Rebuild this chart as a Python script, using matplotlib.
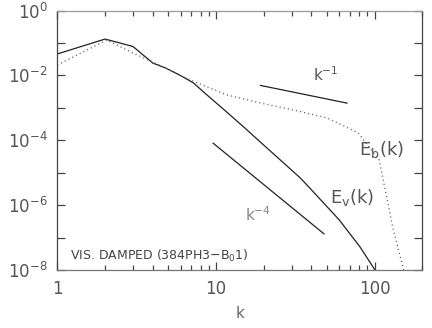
import matplotlib
matplotlib.use("Agg")
import matplotlib.pyplot as plt
import numpy as np
from matplotlib.ticker import FixedLocator, NullFormatter, FixedFormatter

# Data
k_v = [1.0, 2.0, 3.0, 4.0, 4.8, 5.9, 7.2, 9.1, 11.7, 15.2, 19.0, 34.0, 39.0, 60.0, 81.0, 100.0]
E_v = [10**-1.34, 10**-0.88, 10**-1.11, 10**-1.62, 10**-1.77, 10**-1.99, 10**-2.23, 10**-2.67,
       10**-3.13, 10**-3.62, 10**-4.05, 10**-5.16, 10**-5.47, 10**-6.46, 10**-7.29, 10**-7.98]

k_b = [1.0, 2.05, 3.0, 4.0, 4.8, 5.9, 7.6, 11.7, 19.0, 31.0, 50.0, 68.0, 79.0, 107.0, 130.0, 151.0, 156.0]
E_b = [10**-1.68, 10**-0.91, 10**-1.31, 10**-1.59, 10**-1.77, 10**-1.99, 10**-2.23, 10**-2.60,
       10**-2.85, 10**-3.07, 10**-3.31, 10**-3.62, 10**-3.78, 10**-4.61, 10**-6.67, 10**-7.91, 10**-8.2]

ref1_k = [19.1, 67.0]
ref1_E0 = 10**-2.31
ref4_k = [9.6, 48.0]
ref4_E0 = 10**-4.09

xticks = [1, 10, 100]
xticklabels = ["1", "10", "100"]
xminor = [2, 3, 4, 5, 6, 7, 8, 9, 20, 30, 40, 50, 60, 70, 80, 90, 200]
yticks = [1e0, 1e-2, 1e-4, 1e-6, 1e-8]
yticklabels = [r"$10^{0}$", r"$10^{-2}$", r"$10^{-4}$", r"$10^{-6}$", r"$10^{-8}$"]
yminor = [1e-1, 1e-3, 1e-5, 1e-7]

fig = plt.figure(figsize=(4.32, 3.28), dpi=100)
ax = fig.add_axes([57.3/432, 1 - 270/328, (422.3-57.3)/432, (270-10.5)/328])

ax.plot(k_v, E_v, color="#222222", lw=0.9)
ax.plot(k_b, E_b, color="#666666", lw=1.0, linestyle=(0, (0.8, 2.2)))

r1 = np.array(ref1_k)
ax.plot(r1, ref1_E0 * (r1 / r1[0])**-1.0, color="#222222", lw=0.9)
r4 = np.array(ref4_k)
ax.plot(r4, ref4_E0 * (r4 / r4[0])**-4.0, color="#222222", lw=0.9)

ax.set_xscale("log")
ax.set_yscale("log")
ax.set_xlim(1, 200)
ax.set_ylim(1e-8, 1)

ax.xaxis.set_major_locator(FixedLocator(xticks))
ax.xaxis.set_major_formatter(FixedFormatter(xticklabels))
ax.xaxis.set_minor_locator(FixedLocator(xminor))
ax.xaxis.set_minor_formatter(NullFormatter())
ax.yaxis.set_major_locator(FixedLocator(yticks))
ax.yaxis.set_major_formatter(FixedFormatter(yticklabels))
ax.yaxis.set_minor_locator(FixedLocator(yminor))
ax.yaxis.set_minor_formatter(NullFormatter())

ax.tick_params(which="both", direction="in", top=True, right=True, colors="#444444",
               labelcolor="#555555", width=0.9)
ax.tick_params(which="major", length=6, labelsize=12, pad=7)
ax.tick_params(axis="x", which="minor", length=3.5)
ax.tick_params(axis="y", which="minor", length=6)
for s in ax.spines.values():
    s.set_color("#444444")
    s.set_linewidth(0.9)
ax.spines["top"].set_color("#999999")
ax.spines["bottom"].set_color("#777777")

ax.set_xlabel("k", fontsize=11, color="#666666", labelpad=6)

tc = "#555555"
ax.text(49, 10**-1.99, r"$\mathregular{k^{-1}}$", fontsize=11, color=tc, ha="center", va="center")
ax.text(80, 10**-4.3, r"$\mathregular{E_b(k)}$", fontsize=13, color=tc, ha="left", va="center")
ax.text(52, 10**-5.75, r"$\mathregular{E_v(k)}$", fontsize=13, color=tc, ha="left", va="center")
ax.text(18.4, 10**-6.3, r"$\mathregular{k^{-4}}$", fontsize=11, color="#888888", ha="center", va="center")
ax.text(1.2, 10**-7.57, r"VIS. DAMPED (384PH3$-$B$_0$1)", fontsize=9, color="#444444",
        ha="left", va="center")

fig.savefig("out.png", dpi=100)
